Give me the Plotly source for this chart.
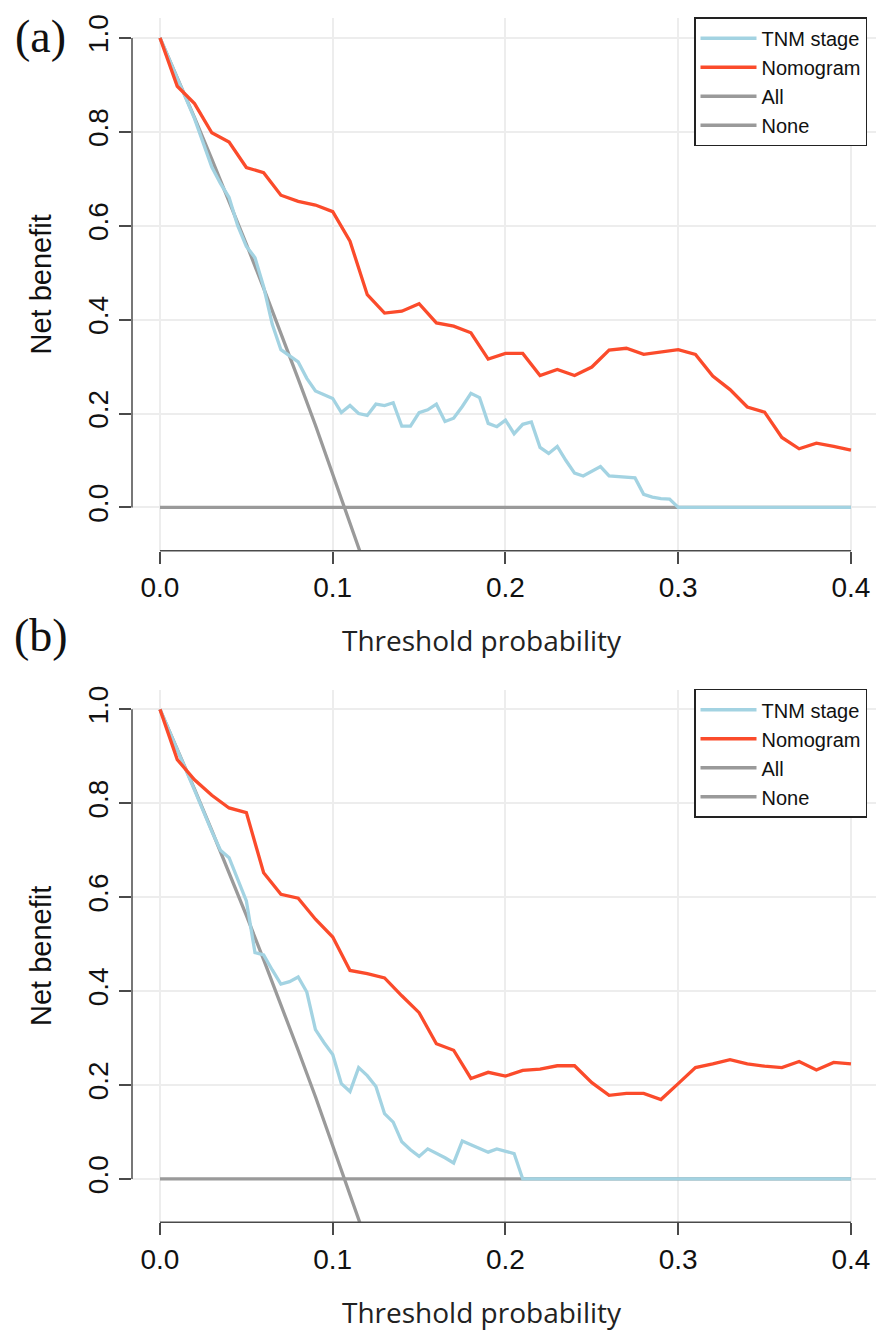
import plotly.graph_objects as go

# ---------------- data ----------------
thresholds = [0.00, 0.01, 0.02, 0.03, 0.04, 0.05, 0.06, 0.07, 0.08, 0.09,
              0.10, 0.11, 0.12, 0.13, 0.14, 0.15, 0.16, 0.17, 0.18, 0.19,
              0.20, 0.21, 0.22, 0.23, 0.24, 0.25, 0.26, 0.27, 0.28, 0.29,
              0.30, 0.31, 0.32, 0.33, 0.34, 0.35, 0.36, 0.37, 0.38, 0.39, 0.40]

nomogram_a = [1.000, 0.897, 0.860, 0.798, 0.778, 0.724, 0.713, 0.665, 0.652, 0.644,
              0.630, 0.567, 0.453, 0.414, 0.418, 0.434, 0.393, 0.386, 0.372, 0.316,
              0.328, 0.328, 0.281, 0.294, 0.281, 0.299, 0.335, 0.339, 0.326, 0.331,
              0.336, 0.326, 0.280, 0.251, 0.214, 0.203, 0.149, 0.125, 0.137, 0.130, 0.122]

nomogram_b = [1.000, 0.893, 0.850, 0.817, 0.790, 0.780, 0.652, 0.606, 0.598, 0.553,
              0.515, 0.444, 0.437, 0.428, 0.390, 0.354, 0.288, 0.274, 0.214, 0.227,
              0.219, 0.231, 0.234, 0.241, 0.241, 0.205, 0.178, 0.182, 0.182, 0.169,
              0.203, 0.237, 0.245, 0.254, 0.245, 0.240, 0.237, 0.250, 0.232, 0.248, 0.245]

tnm_a_x = [0.000, 0.010, 0.020, 0.030, 0.035, 0.040, 0.045, 0.050, 0.055, 0.060,
           0.065, 0.070, 0.075, 0.080, 0.085, 0.090, 0.095, 0.100, 0.105, 0.110,
           0.115, 0.120, 0.125, 0.130, 0.135, 0.140, 0.145, 0.150, 0.155, 0.160,
           0.165, 0.170, 0.175, 0.180, 0.185, 0.190, 0.195, 0.200, 0.205, 0.210,
           0.215, 0.220, 0.225, 0.230, 0.235, 0.240, 0.245, 0.250, 0.255, 0.260,
           0.265, 0.270, 0.275, 0.280, 0.285, 0.290, 0.295, 0.300, 0.400]
tnm_a_y = [1.000, 0.915, 0.828, 0.725, 0.690, 0.660, 0.600, 0.556, 0.532, 0.470,
           0.390, 0.336, 0.322, 0.310, 0.275, 0.248, 0.240, 0.232, 0.202, 0.217,
           0.200, 0.196, 0.220, 0.217, 0.223, 0.173, 0.173, 0.202, 0.208, 0.220,
           0.183, 0.190, 0.215, 0.243, 0.234, 0.179, 0.172, 0.186, 0.157, 0.177,
           0.182, 0.128, 0.115, 0.130, 0.100, 0.073, 0.067, 0.077, 0.087, 0.067,
           0.066, 0.065, 0.063, 0.028, 0.022, 0.019, 0.018, 0.000, 0.000]

tnm_b_x = [0.000, 0.010, 0.020, 0.030, 0.035, 0.040, 0.045, 0.050, 0.055, 0.060,
           0.065, 0.070, 0.075, 0.080, 0.085, 0.090, 0.095, 0.100, 0.105, 0.110,
           0.115, 0.120, 0.125, 0.130, 0.135, 0.140, 0.145, 0.150, 0.155, 0.160,
           0.165, 0.170, 0.175, 0.180, 0.185, 0.190, 0.195, 0.200, 0.205, 0.210, 0.400]
tnm_b_y = [1.000, 0.915, 0.828, 0.740, 0.700, 0.684, 0.640, 0.592, 0.482, 0.477,
           0.445, 0.415, 0.420, 0.430, 0.398, 0.318, 0.290, 0.265, 0.203, 0.186,
           0.237, 0.220, 0.197, 0.139, 0.121, 0.079, 0.062, 0.048, 0.064, 0.055,
           0.045, 0.034, 0.081, 0.073, 0.065, 0.057, 0.064, 0.059, 0.054, 0.000, 0.000]

all_x = [0.00, 0.01, 0.02, 0.03, 0.04, 0.05, 0.06, 0.07, 0.08, 0.09, 0.10, 0.11, 0.12, 0.13]
all_y = [1.000, 0.916, 0.830, 0.742, 0.652, 0.561, 0.467, 0.372, 0.274, 0.175, 0.073, -0.031, -0.138, -0.248]

none_x = [0.0, 0.4]
none_y = [0.0, 0.0]

x_ticks = [0.0, 0.1, 0.2, 0.3, 0.4]
x_ticklabels = ["0.0", "0.1", "0.2", "0.3", "0.4"]
y_ticks = [0.0, 0.2, 0.4, 0.6, 0.8, 1.0]
y_ticklabels = ["0.0", "0.2", "0.4", "0.6", "0.8", "1.0"]

x_title = "Threshold probability"
y_title = "Net benefit"
panel_labels = ["(a)", "(b)"]

# ---------------- style ----------------
C_TNM = "#A3D3E2"
C_NOMO = "#FB4B2B"
C_GRAY = "#9A9A9A"
AXIS_C = "#4A4A4A"
GRID_C = "#EDEDED"
SANS = "Liberation Sans, Arial, sans-serif"
SERIF = "Liberation Serif, Times New Roman, serif"
TITLE_FONT = "Open Sans, Noto Sans, sans-serif"
W, H = 876, 1330
LW = 3.3

X_RANGE = [-0.0162, 0.4145]
Y_RANGE = [-0.092, 1.042]

fig = go.Figure()

panels = [
    dict(xa="x", ya="y", leg="legend", tnm=(tnm_a_x, tnm_a_y), nomo=nomogram_a),
    dict(xa="x2", ya="y2", leg="legend2", tnm=(tnm_b_x, tnm_b_y), nomo=nomogram_b),
]

for p in panels:
    fig.add_trace(go.Scatter(x=all_x, y=all_y, mode="lines", name="All",
                             line=dict(color=C_GRAY, width=LW), xaxis=p["xa"], yaxis=p["ya"],
                             legend=p["leg"], legendrank=3))
    fig.add_trace(go.Scatter(x=none_x, y=none_y, mode="lines", name="None",
                             line=dict(color=C_GRAY, width=LW), xaxis=p["xa"], yaxis=p["ya"],
                             legend=p["leg"], legendrank=4))
    fig.add_trace(go.Scatter(x=p["tnm"][0], y=p["tnm"][1], mode="lines", name="TNM stage",
                             line=dict(color=C_TNM, width=LW), xaxis=p["xa"], yaxis=p["ya"],
                             legend=p["leg"], legendrank=1))
    fig.add_trace(go.Scatter(x=thresholds, y=p["nomo"], mode="lines", name="Nomogram",
                             line=dict(color=C_NOMO, width=LW), xaxis=p["xa"], yaxis=p["ya"],
                             legend=p["leg"], legendrank=2))

x_dom = [132 / W, 1.0]
y_dom_a = [1 - 548.3 / H, 1 - 14.2 / H]
y_dom_b = [1 - 1221.8 / H, 1 - 687.7 / H]

xaxis_common = dict(range=X_RANGE, domain=x_dom, tickvals=x_ticks, ticktext=x_ticklabels,
                    showgrid=True, gridcolor=GRID_C, gridwidth=1.5, zeroline=False,
                    showline=False, ticks="outside", ticklen=12, tickwidth=1.5,
                    tickcolor=AXIS_C, tickfont=dict(family=SANS, size=28, color="#111"),
                    fixedrange=True)
yaxis_common = dict(range=Y_RANGE, tickvals=y_ticks, ticktext=y_ticklabels,
                    showgrid=True, gridcolor=GRID_C, gridwidth=1.5, zeroline=False,
                    showline=False, ticks="outside", ticklen=12, tickwidth=1.5,
                    tickcolor=AXIS_C, tickangle=-90,
                    tickfont=dict(family=SANS, size=28, color="#111"),
                    title=dict(text=y_title, font=dict(family=SANS, size=29, color="#111"),
                               standoff=22),
                    fixedrange=True)

fig.update_layout(
    xaxis=dict(**xaxis_common, anchor="y"),
    yaxis=dict(**yaxis_common, domain=y_dom_a, anchor="x"),
    xaxis2=dict(**xaxis_common, anchor="y2"),
    yaxis2=dict(**yaxis_common, domain=y_dom_b, anchor="x2"),
)

legend_common = dict(bordercolor="#222", borderwidth=1.5, bgcolor="white",
                     font=dict(family=SANS, size=20, color="#111"),
                     xanchor="left", yanchor="top", itemwidth=56,
                     tracegroupgap=0, traceorder="normal")
fig.update_layout(
    legend=dict(**legend_common, x=694 / W, y=1 - 13.3 / H),
    legend2=dict(**legend_common, x=694 / W, y=1 - 686.8 / H),
)

# R-style detached axis lines spanning only the tick range
for xa, ya in (("x", "y"), ("x2", "y2")):
    fig.add_shape(type="line", xref=f"{xa} domain", yref=ya, x0=0, x1=0, y0=0, y1=1,
                  line=dict(color=AXIS_C, width=1.5))
    fig.add_shape(type="line", xref=xa, yref=f"{ya} domain", x0=0, x1=0.4, y0=0, y1=0,
                  line=dict(color=AXIS_C, width=1.5))

# x-axis titles (placed where the original puts them)
for ycen in (638, 1311.5):
    fig.add_annotation(text=x_title, xref="paper", yref="paper", x=482.5 / W, y=1 - ycen / H,
                       showarrow=False, xanchor="center", yanchor="middle",
                       font=dict(family=TITLE_FONT, size=28, color="#222"))

# panel labels
fig.add_annotation(text=panel_labels[0], xref="paper", yref="paper", x=40 / W, y=1 - 33 / H,
                   showarrow=False, xanchor="center", yanchor="middle",
                   font=dict(family=SERIF, size=46, color="#111"))
fig.add_annotation(text=panel_labels[1], xref="paper", yref="paper", x=41 / W, y=1 - 633 / H,
                   showarrow=False, xanchor="center", yanchor="middle",
                   font=dict(family=SERIF, size=46, color="#111"))

fig.update_layout(width=W, height=H, margin=dict(l=0, r=0, t=0, b=0),
                  paper_bgcolor="white", plot_bgcolor="white", showlegend=True)

fig.write_html("out.html")
